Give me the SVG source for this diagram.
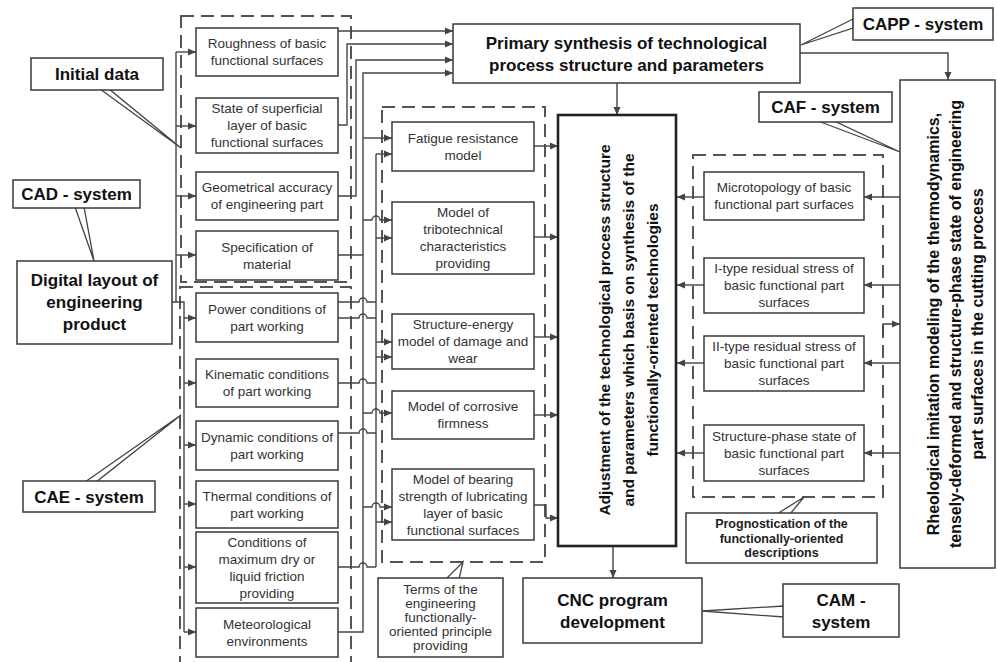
<svg xmlns="http://www.w3.org/2000/svg" width="998" height="662" viewBox="0 0 998 662">
  <style>
    .bg { fill: #fff; }
    .box { fill: #fff; stroke: #3a3a3a; stroke-width: 1.5; }
    .main { fill: #fff; stroke: #222; stroke-width: 2.6; }
    .grp { fill: none; stroke: #555; stroke-width: 2; stroke-dasharray: 13 7; }
    .wire { fill: none; stroke: #444; stroke-width: 1.4; }
    .call { fill: #fff; stroke: #444; stroke-width: 1.3; stroke-linejoin: miter; }
    .t { font-family: "Liberation Sans", Arial, sans-serif; font-size: 13.5px; fill: #333; text-anchor: middle; }
    .tb { font-family: "Liberation Sans", Arial, sans-serif; font-size: 17px; font-weight: bold; fill: #111; text-anchor: middle; }
    .ts { font-family: "Liberation Sans", Arial, sans-serif; font-size: 12.5px; font-weight: bold; fill: #222; text-anchor: middle; }
    .tr { font-family: "Liberation Sans", Arial, sans-serif; font-size: 15.5px; font-weight: bold; fill: #111; text-anchor: middle; }
    .tq { font-family: "Liberation Sans", Arial, sans-serif; font-size: 16px; font-weight: bold; fill: #111; text-anchor: middle; }
  </style>
  <defs>
    <marker id="arr" markerUnits="userSpaceOnUse" markerWidth="9" markerHeight="8" refX="8" refY="4" orient="auto">
      <path d="M0,0.5 L8,4 L0,7.5 Z" fill="#444"/>
    </marker>
  </defs>

  <rect class="bg" x="0" y="0" width="998" height="662"/>

  <!-- dashed grouping frames -->
  <g id="frames">
    <rect class="grp" x="181" y="16" width="170" height="266"/>
    <rect class="grp" x="180" y="287" width="171" height="400"/>
    <rect class="grp" x="382" y="107" width="163" height="455"/>
    <rect class="grp" x="693" y="155" width="190" height="342"/>
  </g>

  <!-- connectors -->
  <g id="connectors" class="wire">
    <!-- input bus from the digital layout -->
    <path d="M176,52 V302 M172,302 H184 V632"/>
    <path d="M176,52 H196" marker-end="url(#arr)"/>
    <path d="M176,126 H196" marker-end="url(#arr)"/>
    <path d="M176,196 H196" marker-end="url(#arr)"/>
    <path d="M176,255 H196" marker-end="url(#arr)"/>
    <path d="M184,318 H196" marker-end="url(#arr)"/>
    <path d="M184,383 H196" marker-end="url(#arr)"/>
    <path d="M184,445 H196" marker-end="url(#arr)"/>
    <path d="M184,504 H196" marker-end="url(#arr)"/>
    <path d="M184,567 H196" marker-end="url(#arr)"/>
    <path d="M184,632 H196" marker-end="url(#arr)"/>

    <!-- initial data to primary synthesis -->
    <path d="M338,31 H453" marker-end="url(#arr)"/>
    <path d="M338,125 H347 V44 H453" marker-end="url(#arr)"/>
    <path d="M338,196 H356 V60 H453" marker-end="url(#arr)"/>
    <path d="M363,255 V73 H453" marker-end="url(#arr)"/>
    <path d="M338,255 H363 V632 H338"/>

    <!-- bus A outputs to models -->
    <path d="M363,138 H392" marker-end="url(#arr)"/>
    <path d="M363,220 H372 a4,4 0 0 1 8,0 H392" marker-end="url(#arr)"/>
    <path d="M363,413 H372 a4,4 0 0 1 8,0 H392" marker-end="url(#arr)"/>
    <path d="M363,507 H372 a4,4 0 0 1 8,0 H392" marker-end="url(#arr)"/>

    <!-- bus B -->
    <path d="M376,154 V567"/>
    <path d="M376,154 H392" marker-end="url(#arr)"/>
    <path d="M376,238 H392" marker-end="url(#arr)"/>
    <path d="M376,342 H392" marker-end="url(#arr)"/>
    <path d="M376,357 H392" marker-end="url(#arr)"/>
    <path d="M376,522 H392" marker-end="url(#arr)"/>
    <path d="M338,302 H359 a4,4 0 0 1 8,0 H376"/>
    <path d="M338,318 H359 a4,4 0 0 1 8,0 H376"/>
    <path d="M338,383 H359 a4,4 0 0 1 8,0 H376"/>
    <path d="M338,433 H359 a4,4 0 0 1 8,0 H376"/>
    <path d="M338,567 H359 a4,4 0 0 1 8,0 H376"/>

    <!-- models to adjustment -->
    <path d="M534,146 H558" marker-end="url(#arr)"/>
    <path d="M534,237 H558" marker-end="url(#arr)"/>
    <path d="M534,337 H558" marker-end="url(#arr)"/>
    <path d="M534,415 H558" marker-end="url(#arr)"/>
    <path d="M534,505 H546 V518 H558" marker-end="url(#arr)"/>

    <!-- prognostication to adjustment -->
    <path d="M704,197 H677" marker-end="url(#arr)"/>
    <path d="M704,285 H677" marker-end="url(#arr)"/>
    <path d="M704,363 H677" marker-end="url(#arr)"/>
    <path d="M704,453 H677" marker-end="url(#arr)"/>

    <!-- rheological modeling to prognostication -->
    <path d="M900,197 H864" marker-end="url(#arr)"/>
    <path d="M900,285 H864" marker-end="url(#arr)"/>
    <path d="M900,363 H864" marker-end="url(#arr)"/>
    <path d="M900,453 H864" marker-end="url(#arr)"/>
    <path d="M883,336 V324 H900" marker-end="url(#arr)"/>

    <!-- main flow -->
    <path d="M617,83 V115" marker-end="url(#arr)"/>
    <path d="M800,53 H948 V80" marker-end="url(#arr)"/>
    <path d="M613,547 V578" marker-end="url(#arr)"/>
  </g>

  <!-- callout pointers -->
  <g id="pointers">
    <path class="call" d="M100,89 L181,148 L109,89 Z"/>
    <path class="call" d="M75,207 L94,261 L84,207 Z"/>
    <path class="call" d="M85,482 L181,415 L96,482 Z"/>
    <path class="call" d="M853,19 L801,45 L853,28 Z"/>
    <path class="call" d="M818,121 L900,152 L834,121 Z"/>
    <path class="call" d="M446,579 L463,562 L459,579 Z"/>
    <path class="call" d="M777,514 L804,497 L790,514 Z"/>
    <path class="call" d="M784,606 L702,611 L784,617 Z"/>
  </g>

  <!-- labels -->
  <g id="initial-data">
    <rect class="box" x="31" y="58" width="132" height="32"/>
    <text class="tb" x="97" y="80">Initial data</text>
  </g>
  <g id="cad-system">
    <rect class="box" x="13" y="180" width="127" height="28"/>
    <text class="tb" x="76.5" y="200">CAD - system</text>
  </g>
  <g id="digital-layout">
    <rect class="box" x="17" y="261" width="155" height="83"/>
    <text class="tb" x="94.5" y="286">Digital layout of</text>
    <text class="tb" x="94.5" y="308">engineering</text>
    <text class="tb" x="94.5" y="330">product</text>
  </g>
  <g id="cae-system">
    <rect class="box" x="23" y="481" width="132" height="31"/>
    <text class="tb" x="89" y="502.5">CAE - system</text>
  </g>
  <g id="capp-system">
    <rect class="box" x="853" y="8" width="140" height="32"/>
    <text class="tb" x="923" y="30">CAPP - system</text>
  </g>
  <g id="caf-system">
    <rect class="box" x="759" y="92" width="133" height="30"/>
    <text class="tb" x="825.5" y="113">CAF - system</text>
  </g>

  <!-- initial data inputs -->
  <g id="roughness">
    <rect class="box" x="196" y="28" width="142" height="48"/>
    <text class="t" x="267" y="48">Roughness of basic</text>
    <text class="t" x="267" y="65">functional surfaces</text>
  </g>
  <g id="superficial-layer">
    <rect class="box" x="196" y="98" width="142" height="55"/>
    <text class="t" x="267" y="113">State of superficial</text>
    <text class="t" x="267" y="130">layer of basic</text>
    <text class="t" x="267" y="147">functional surfaces</text>
  </g>
  <g id="geometrical-accuracy">
    <rect class="box" x="196" y="172" width="142" height="48"/>
    <text class="t" x="267" y="192">Geometrical accuracy</text>
    <text class="t" x="267" y="209">of  engineering part</text>
  </g>
  <g id="material">
    <rect class="box" x="196" y="231" width="142" height="49"/>
    <text class="t" x="267" y="251.5">Specification of</text>
    <text class="t" x="267" y="268.5">material</text>
  </g>

  <!-- working conditions -->
  <g id="power">
    <rect class="box" x="196" y="293" width="142" height="49"/>
    <text class="t" x="267" y="313.5">Power conditions of</text>
    <text class="t" x="267" y="330.5">part working</text>
  </g>
  <g id="kinematic">
    <rect class="box" x="196" y="359" width="142" height="48"/>
    <text class="t" x="267" y="379">Kinematic conditions</text>
    <text class="t" x="267" y="396">of part working</text>
  </g>
  <g id="dynamic">
    <rect class="box" x="196" y="421" width="142" height="49"/>
    <text class="t" x="267" y="441.5">Dynamic conditions of</text>
    <text class="t" x="267" y="458.5">part working</text>
  </g>
  <g id="thermal">
    <rect class="box" x="196" y="481" width="142" height="47"/>
    <text class="t" x="267" y="500.5">Thermal conditions of</text>
    <text class="t" x="267" y="517.5">part working</text>
  </g>
  <g id="friction">
    <rect class="box" x="196" y="532" width="142" height="71"/>
    <text class="t" x="267" y="546.5">Conditions of</text>
    <text class="t" x="267" y="563.5">maximum dry or</text>
    <text class="t" x="267" y="580.5">liquid friction</text>
    <text class="t" x="267" y="597.5">providing</text>
  </g>
  <g id="meteorological">
    <rect class="box" x="196" y="608" width="142" height="49"/>
    <text class="t" x="267" y="628.5">Meteorological</text>
    <text class="t" x="267" y="645.5">environments</text>
  </g>

  <!-- functional models -->
  <g id="fatigue">
    <rect class="box" x="392" y="122" width="142" height="49"/>
    <text class="t" x="463" y="142.5">Fatigue resistance</text>
    <text class="t" x="463" y="159.5">model</text>
  </g>
  <g id="tribotechnical">
    <rect class="box" x="392" y="202" width="142" height="72"/>
    <text class="t" x="463" y="217">Model of</text>
    <text class="t" x="463" y="234">tribotechnical</text>
    <text class="t" x="463" y="251">characteristics</text>
    <text class="t" x="463" y="268">providing</text>
  </g>
  <g id="damage-wear">
    <rect class="box" x="392" y="314" width="142" height="55"/>
    <text class="t" x="463" y="329">Structure-energy</text>
    <text class="t" x="463" y="346">model of damage and</text>
    <text class="t" x="463" y="363">wear</text>
  </g>
  <g id="corrosive">
    <rect class="box" x="392" y="391" width="142" height="48"/>
    <text class="t" x="463" y="411">Model of corrosive</text>
    <text class="t" x="463" y="428">firmness</text>
  </g>
  <g id="bearing">
    <rect class="box" x="392" y="469" width="142" height="71"/>
    <text class="t" x="463" y="483.5">Model of bearing</text>
    <text class="t" x="463" y="500.5">strength of lubricating</text>
    <text class="t" x="463" y="517.5">layer of basic</text>
    <text class="t" x="463" y="534.5">functional surfaces</text>
  </g>
  <g id="terms">
    <rect class="box" x="378" y="578" width="125" height="79"/>
    <text class="t" x="440.5" y="593.5">Terms of the</text>
    <text class="t" x="440.5" y="607.5">engineering</text>
    <text class="t" x="440.5" y="621.5">functionally-</text>
    <text class="t" x="440.5" y="635.5">oriented principle</text>
    <text class="t" x="440.5" y="649.5">providing</text>
  </g>

  <!-- process synthesis -->
  <g id="primary-synthesis">
    <rect class="box" x="453" y="24" width="347" height="59"/>
    <text class="tb" x="626.5" y="49">Primary synthesis of technological</text>
    <text class="tb" x="626.5" y="71">process structure and parameters</text>
  </g>
  <g id="adjustment">
    <rect class="main" x="558" y="115" width="118" height="431"/>
    <text class="tr" x="610" y="330" transform="rotate(-90 610 330)">Adjustment of  the technological process structure</text>
    <text class="tr" x="634" y="330" transform="rotate(-90 634 330)">and parameters which basis on synthesis of the</text>
    <text class="tr" x="658" y="330" transform="rotate(-90 658 330)">functionally-oriented technologies</text>
  </g>
  <g id="cnc">
    <rect class="box" x="523" y="578" width="179" height="65"/>
    <text class="tb" x="612.5" y="606">CNC program</text>
    <text class="tb" x="612.5" y="628">development</text>
  </g>
  <g id="cam-system">
    <rect class="box" x="783" y="584" width="116" height="53"/>
    <text class="tb" x="841" y="606">CAM -</text>
    <text class="tb" x="841" y="628">system</text>
  </g>

  <!-- surface state prognosis -->
  <g id="microtopology">
    <rect class="box" x="704" y="172" width="160" height="48"/>
    <text class="t" x="784" y="192">Microtopology of basic</text>
    <text class="t" x="784" y="209">functional part surfaces</text>
  </g>
  <g id="stress-1">
    <rect class="box" x="704" y="258" width="160" height="55"/>
    <text class="t" x="784" y="273">I-type residual stress  of</text>
    <text class="t" x="784" y="290">basic functional part</text>
    <text class="t" x="784" y="307">surfaces</text>
  </g>
  <g id="stress-2">
    <rect class="box" x="704" y="336" width="160" height="55"/>
    <text class="t" x="784" y="351">II-type residual stress  of</text>
    <text class="t" x="784" y="368">basic functional part</text>
    <text class="t" x="784" y="385">surfaces</text>
  </g>
  <g id="structure-phase">
    <rect class="box" x="704" y="425" width="160" height="56"/>
    <text class="t" x="784" y="440.5">Structure-phase state of</text>
    <text class="t" x="784" y="457.5">basic functional part</text>
    <text class="t" x="784" y="474.5">surfaces</text>
  </g>
  <g id="prognostication">
    <rect class="box" x="686" y="513" width="191" height="50"/>
    <text class="ts" x="781.5" y="527.5">Prognostication of the</text>
    <text class="ts" x="781.5" y="542.5">functionally-oriented</text>
    <text class="ts" x="781.5" y="556.5">descriptions</text>
  </g>
  <g id="rheological">
    <rect class="box" x="900" y="80" width="95" height="488"/>
    <text class="tq" x="939" y="324" transform="rotate(-90 939 324)">Rheological imitation modeling of the thermodynamics,</text>
    <text class="tq" x="961" y="324" transform="rotate(-90 961 324)">tensely-deformed and structure-phase state of engineering</text>
    <text class="tq" x="983" y="324" transform="rotate(-90 983 324)">part surfaces  in the cutting process</text>
  </g>
</svg>
